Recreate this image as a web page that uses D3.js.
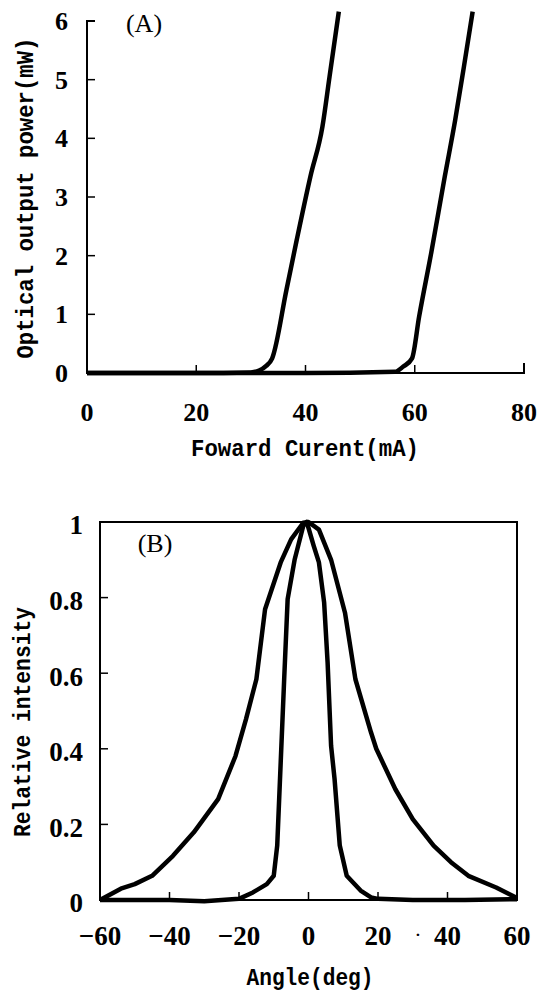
<!DOCTYPE html>
<html>
<head>
<meta charset="utf-8">
<script src="https://cdn.jsdelivr.net/npm/d3@7"></script>
<style>
  html, body { margin: 0; padding: 0; background: #fff; }
  svg { display: block; }
</style>
</head>
<body>
<svg id="chart" width="540" height="993"></svg>
<script>
// ---------- Panel A data ----------
const currentTicksA = [0, 20, 40, 60, 80];
const powerTicksA = [0, 1, 2, 3, 4, 5, 6];
const currentA1 = [0, 10, 20, 30, 31.5, 32.8, 33.9, 36.5, 38.4, 40.9, 43.1, 44.4, 46.1];
const powerA1   = [0, 0, 0, 0.01, 0.04, 0.12, 0.25, 1.41, 2.27, 3.35, 4.2, 5.05, 6.16];
const currentA2 = [0, 20, 40, 56.4, 57.9, 59.5, 60.8, 63.0, 65.5, 67.4, 69.0, 70.6];
const powerA2   = [0, 0, 0, 0.02, 0.11, 0.25, 0.96, 2.04, 3.35, 4.31, 5.22, 6.16];

// ---------- Panel B data ----------
const angleTicksB = [-60, -40, -20, 0, 20, 40, 60];
const intensityTicksB = [0, 0.2, 0.4, 0.6, 0.8, 1];
const intensityTickLabelsB = ["0", "0.2", "0.4", "0.6", "0.8", "1"];
const angleWide = [-60, -54, -50, -45, -39, -33, -26, -21, -18, -15, -12.5, -8, -5, -1.5, 0, 3, 6.5, 10.5, 13.5, 18, 19.5, 25, 30, 36, 41, 46, 54, 60];
const intensityWide = [0, 0.03, 0.042, 0.064, 0.117, 0.179, 0.267, 0.381, 0.478, 0.584, 0.769, 0.893, 0.954, 0.998, 1, 0.98, 0.9, 0.76, 0.584, 0.443, 0.4, 0.293, 0.214, 0.144, 0.1, 0.064, 0.033, 0.005];
const angleNarrow = [-60, -40, -30, -20, -16, -12, -10, -9, -8, -7, -6, -4, -1.5, -0.5, 1.5, 3, 4.5, 5.5, 6.5, 7.5, 9, 11, 15, 18, 20, 30, 45, 60];
const intensityNarrow = [0, 0, -0.003, 0.003, 0.02, 0.042, 0.064, 0.144, 0.364, 0.584, 0.796, 0.9, 0.99, 1, 0.937, 0.893, 0.787, 0.628, 0.408, 0.32, 0.144, 0.064, 0.025, 0.007, 0.003, 0, 0, 0.002];

const svg = d3.select("#chart");
const ink = "#000";
const serif = "Liberation Serif, serif";
const mono = "Liberation Mono, monospace";

// ================= Panel A =================
const xA = d3.scaleLinear().domain([0, 80]).range([87, 524]);
const yA = d3.scaleLinear().domain([0, 6]).range([373, 21]);

const gA = svg.append("g");
gA.append("path")
  .attr("d", `M${xA(0)+8},${yA(6)} H${xA(0)} V${yA(0)} H${xA(80)} V${yA(0)-10}`)
  .attr("fill", "none").attr("stroke", ink).attr("stroke-width", 2);
gA.selectAll(".yt").data(powerTicksA.filter(d => d > 0 && d < 6)).join("line")
  .attr("x1", xA(0)).attr("x2", xA(0) + 8)
  .attr("y1", d => yA(d)).attr("y2", d => yA(d))
  .attr("stroke", ink).attr("stroke-width", 1.5);
gA.selectAll(".xt").data(currentTicksA.filter(d => d > 0 && d < 80)).join("line")
  .attr("x1", d => xA(d)).attr("x2", d => xA(d))
  .attr("y1", yA(0)).attr("y2", yA(0) - 8)
  .attr("stroke", ink).attr("stroke-width", 1.5);
gA.selectAll(".yl").data(powerTicksA).join("text")
  .attr("x", 68).attr("y", d => yA(d)).attr("dy", "0.35em")
  .attr("text-anchor", "end").style("font-family", serif).attr("font-size", 26)
  .attr("font-weight", "bold")
  .text(d => d);
gA.selectAll(".xl").data(currentTicksA).join("text")
  .attr("x", d => xA(d)).attr("y", 412).attr("dy", "0.35em")
  .attr("text-anchor", "middle").style("font-family", serif).attr("font-size", 26)
  .attr("font-weight", "bold")
  .text(d => d);
gA.append("text").attr("x", 305).attr("y", 448).attr("dy", "0.35em")
  .attr("text-anchor", "middle").style("font-family", mono).attr("font-size", 24)
  .attr("font-weight", "bold")
  .attr("textLength", 228).attr("lengthAdjust", "spacingAndGlyphs")
  .text("Foward Curent(mA)");
gA.append("text").attr("transform", "translate(25,198) rotate(-90)").attr("dy", "0.35em")
  .attr("text-anchor", "middle").style("font-family", mono).attr("font-size", 24)
  .attr("font-weight", "bold")
  .attr("textLength", 321).attr("lengthAdjust", "spacingAndGlyphs")
  .text("Optical output power(mW)");
gA.append("text").attr("x", 144).attr("y", 23).attr("dy", "0.35em")
  .attr("text-anchor", "middle").style("font-family", serif).attr("font-size", 26)
  .text("(A)");
const lineA = d3.line().x(d => xA(d[0])).y(d => yA(d[1])).curve(d3.curveMonotoneX);
[[currentA1, powerA1], [currentA2, powerA2]].forEach(([xs, ys]) => {
  gA.append("path").datum(xs.map((x, i) => [x, ys[i]]))
    .attr("d", lineA).attr("fill", "none").attr("stroke", ink)
    .attr("stroke-width", 4.5).attr("stroke-linejoin", "round");
});

// ================= Panel B =================
const xB = d3.scaleLinear().domain([-60, 60]).range([100, 517]);
const yB = d3.scaleLinear().domain([0, 1]).range([900, 522]);

const gB = svg.append("g");
gB.append("rect").attr("x", xB(-60)).attr("y", yB(1))
  .attr("width", xB(60) - xB(-60)).attr("height", yB(0) - yB(1))
  .attr("fill", "none").attr("stroke", ink).attr("stroke-width", 2);
gB.selectAll(".yt").data(intensityTicksB.filter(d => d > 0 && d < 1)).join("line")
  .attr("x1", xB(-60)).attr("x2", xB(-60) + 8)
  .attr("y1", d => yB(d)).attr("y2", d => yB(d))
  .attr("stroke", ink).attr("stroke-width", 1.5);
gB.selectAll(".xt").data(angleTicksB.filter(d => d > -60 && d < 60)).join("line")
  .attr("x1", d => xB(d)).attr("x2", d => xB(d))
  .attr("y1", yB(0)).attr("y2", yB(0) - 8)
  .attr("stroke", ink).attr("stroke-width", 1.5);
gB.selectAll(".yl").data(intensityTicksB).join("text")
  .attr("x", 83).attr("y", d => yB(d) + 3).attr("dy", "0.35em")
  .attr("text-anchor", "end").style("font-family", serif).attr("font-size", 27)
  .attr("font-weight", "bold")
  .text((d, i) => intensityTickLabelsB[i]);
gB.selectAll(".xl").data(angleTicksB).join("text")
  .attr("x", d => xB(d)).attr("y", 936).attr("dy", "0.35em")
  .attr("text-anchor", "middle").style("font-family", serif).attr("font-size", 27)
  .attr("font-weight", "bold")
  .text(d => d < 0 ? "\u2212" + Math.abs(d) : d);
gB.append("text").attr("x", 418).attr("y", 934).attr("dy", "0.35em")
  .attr("text-anchor", "middle").style("font-family", serif).attr("font-size", 22)
  .text("\u00b7");
gB.append("text").attr("x", 310).attr("y", 977).attr("dy", "0.35em")
  .attr("text-anchor", "middle").style("font-family", mono).attr("font-size", 24)
  .attr("font-weight", "bold")
  .attr("textLength", 127).attr("lengthAdjust", "spacingAndGlyphs")
  .text("Angle(deg)");
gB.append("text").attr("transform", "translate(22,722) rotate(-90)").attr("dy", "0.35em")
  .attr("text-anchor", "middle").style("font-family", mono).attr("font-size", 24)
  .attr("font-weight", "bold")
  .attr("textLength", 230).attr("lengthAdjust", "spacingAndGlyphs")
  .text("Relative intensity");
gB.append("text").attr("x", 155).attr("y", 543).attr("dy", "0.35em")
  .attr("text-anchor", "middle").style("font-family", serif).attr("font-size", 26)
  .text("(B)");
const lineB = d3.line().x(d => xB(d[0])).y(d => yB(d[1])).curve(d3.curveLinear);
[[angleWide, intensityWide], [angleNarrow, intensityNarrow]].forEach(([xs, ys]) => {
  gB.append("path").datum(xs.map((x, i) => [x, ys[i]]))
    .attr("d", lineB).attr("fill", "none").attr("stroke", ink)
    .attr("stroke-width", 4.5).attr("stroke-linejoin", "round");
});
</script>
</body>
</html>
